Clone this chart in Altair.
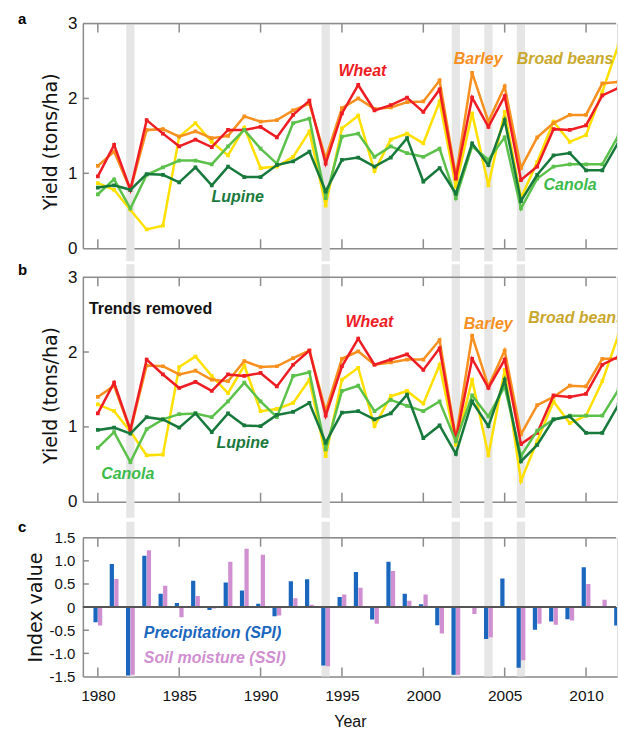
import altair as alt
import pandas as pd

# ---------------- data ----------------
years = list(range(1980, 2013))
crops = ["Broad beans", "Barley", "Wheat", "Canola", "Lupine"]

wheat_raw = [0.96, 1.38, 0.78, 1.71, 1.53, 1.36, 1.45, 1.35, 1.58, 1.58, 1.62, 1.48, 1.78, 1.97,
             1.13, 1.80, 2.18, 1.84, 1.91, 2.01, 1.82, 2.12, 0.93, 2.01, 1.62, 2.03, 0.91, 1.09,
             1.59, 1.58, 1.64, 2.04, 2.14]
barley_raw = [1.10, 1.29, 0.78, 1.58, 1.59, 1.49, 1.56, 1.47, 1.50, 1.76, 1.69, 1.71, 1.84, 1.93,
              1.20, 1.87, 2.00, 1.86, 1.88, 1.95, 1.96, 2.24, 0.96, 2.34, 1.69, 2.16, 1.07, 1.48,
              1.67, 1.78, 1.78, 2.20, 2.22]
beans_raw = [0.87, 0.78, 0.51, 0.25, 0.30, 1.49, 1.67, 1.42, 1.24, 1.61, 1.07, 1.09, 1.22, 1.56,
             0.57, 1.60, 1.77, 1.03, 1.45, 1.53, 1.40, 1.96, 0.82, 1.80, 0.84, 1.82, 0.67, 1.15,
             1.69, 1.42, 1.51, 2.09, 2.72]
canola_raw = [0.72, 0.92, 0.53, 0.98, 1.08, 1.17, 1.17, 1.12, 1.36, 1.58, 1.33, 1.13, 1.67, 1.73,
              0.67, 1.49, 1.53, 1.22, 1.36, 1.27, 1.22, 1.33, 0.67, 1.36, 1.18, 1.48, 0.53, 0.93,
              1.09, 1.12, 1.12, 1.12, 1.51]
lupine_raw = [0.81, 0.84, 0.78, 0.99, 0.98, 0.88, 1.08, 0.84, 1.09, 0.95, 0.95, 1.11, 1.16, 1.29,
              0.76, 1.18, 1.21, 1.09, 1.21, 1.47, 0.89, 1.07, 0.73, 1.40, 1.11, 1.71, 0.63, 0.98,
              1.24, 1.27, 1.04, 1.04, 1.42]

wheat_detr = [1.18, 1.59, 0.96, 1.90, 1.70, 1.52, 1.60, 1.48, 1.70, 1.68, 1.72, 1.54, 1.83, 2.02,
              1.15, 1.81, 2.18, 1.83, 1.90, 1.97, 1.76, 2.05, 0.83, 1.91, 1.52, 1.90, 0.77, 0.92,
              1.42, 1.40, 1.44, 1.83, 1.94]
barley_detr = [1.40, 1.55, 0.95, 1.82, 1.81, 1.70, 1.75, 1.63, 1.61, 1.88, 1.80, 1.81, 1.92, 2.02,
               1.21, 1.91, 2.01, 1.83, 1.86, 1.90, 1.90, 2.16, 0.85, 2.22, 1.54, 2.02, 0.90, 1.29,
               1.40, 1.55, 1.54, 1.91, 1.91]
beans_detr = [1.30, 1.21, 0.94, 0.62, 0.63, 1.80, 1.94, 1.68, 1.45, 1.82, 1.21, 1.24, 1.32, 1.63,
              0.61, 1.63, 1.79, 1.01, 1.41, 1.48, 1.31, 1.83, 0.76, 1.63, 0.62, 1.76, 0.28, 0.81,
              1.34, 1.05, 1.15, 1.61, 2.23]
canola_detr = [0.72, 0.93, 0.53, 0.97, 1.10, 1.17, 1.18, 1.13, 1.34, 1.59, 1.34, 1.13, 1.68, 1.73,
               0.70, 1.48, 1.55, 1.21, 1.36, 1.28, 1.21, 1.34, 0.81, 1.42, 1.14, 1.54, 0.61, 0.95,
               1.10, 1.15, 1.15, 1.15, 1.50]
lupine_detr = [0.96, 0.99, 0.91, 1.13, 1.10, 0.99, 1.18, 0.93, 1.18, 1.02, 1.01, 1.16, 1.20, 1.32,
               0.79, 1.19, 1.21, 1.10, 1.18, 1.43, 0.85, 1.02, 0.64, 1.34, 1.01, 1.63, 0.54, 0.76,
               1.10, 1.14, 0.92, 0.92, 1.30]

spi = [-0.33, 0.93, -1.48, 1.11, 0.29, 0.09, 0.57, -0.06, 0.53, 0.36, 0.07, -0.20, 0.56, 0.60,
       -1.26, 0.22, 0.76, -0.27, 0.98, 0.29, 0.06, -0.39, -1.46, 0.00, -0.69, 0.62, -1.31, -0.49,
       -0.31, -0.26, 0.86, -0.02, -0.40]
ssi = [-0.40, 0.61, -1.46, 1.23, 0.46, -0.22, 0.24, -0.03, 0.98, 1.26, 1.13, -0.18, 0.19, 0.05,
       -1.28, 0.27, 0.42, -0.36, 0.78, 0.14, 0.27, -0.57, -1.46, -0.15, -0.65, 0.01, -1.15, -0.36,
       -0.38, -0.29, 0.50, 0.16, -0.30]

drought_years = [1982, 1994, 2002, 2004, 2006]
tick_years = [1980, 1985, 1990, 1995, 2000, 2005, 2010]
yield_ticks = [0, 1, 2, 3]
index_ticks = [-1.5, -1.0, -0.5, 0, 0.5, 1.0, 1.5]

raw_series = {"Wheat": wheat_raw, "Barley": barley_raw, "Broad beans": beans_raw,
              "Canola": canola_raw, "Lupine": lupine_raw}
detr_series = {"Wheat": wheat_detr, "Barley": barley_detr, "Broad beans": beans_detr,
               "Canola": canola_detr, "Lupine": lupine_detr}

# ---------------- style ----------------
line_color = {"Wheat": "#ee1d24", "Barley": "#f7901e", "Broad beans": "#ffe000",
              "Canola": "#5cc14b", "Lupine": "#17793b"}
text_color = {"Wheat": "#ee1c25", "Barley": "#f7901e", "Broad beans": "#c9a82c",
              "Canola": "#3cba4a", "Lupine": "#1a7a3c"}
SPI_COLOR = "#1a67bd"
SSI_COLOR = "#d08fd0"
BAND = "#e6e6e6"
FRAME = "#8c8c8c"
FONT = "Liberation Sans"
WIDE = "DejaVu Sans"

W = 535
XMIN = 1979.08
XMAX = XMIN + W / 16.3
xscale = alt.Scale(domain=[XMIN, XMAX], nice=False, zero=False)


def x_axis(show_labels):
    if show_labels:
        return alt.Axis(values=tick_years, format="d", ticks=False, tickSize=0, grid=False,
                        domain=True, domainColor=FRAME, domainWidth=1.5,
                        labelFont=FONT, labelFontSize=15.5, labelColor="#111", labelPadding=12,
                        title="Year", titleFont=FONT, titleFontSize=16, titleFontWeight="normal",
                        titleColor="#111", titlePadding=10)
    return alt.Axis(labels=False, ticks=False, tickSize=0, grid=False, domain=True,
                    domainColor=FRAME, domainWidth=1.5, title="")


class Enc:
    """Encoding helpers that carry the same scale and axis in every layer of a panel."""

    def __init__(self, yscale, yax, xax):
        self.ys, self.ya, self.xa = yscale, yax, xax

    def x(self, field):
        return alt.X(field, type="quantitative", scale=xscale, axis=self.xa)

    def xd(self, v):
        return alt.XDatum(v, type="quantitative", scale=xscale, axis=self.xa)

    def y(self, field):
        return alt.Y(field, type="quantitative", scale=self.ys, axis=self.ya)

    def yd(self, v):
        return alt.YDatum(v, type="quantitative", scale=self.ys, axis=self.ya)


def one_row():
    return pd.DataFrame({"k": [0]})


def frame_layers(E, ytop, ybot, ylen, left_ticks):
    xlen = 6 / 16.3
    layers = []
    tdf = pd.DataFrame({"year": tick_years})
    layers.append(alt.Chart(tdf).mark_rule(color=FRAME, strokeWidth=1.5).encode(
        x=E.x("year"), y=E.yd(ytop), y2=alt.datum(ytop - ylen)))
    layers.append(alt.Chart(tdf).mark_rule(color=FRAME, strokeWidth=1.5).encode(
        x=E.x("year"), y=E.yd(ybot), y2=alt.datum(ybot + ylen)))
    ldf = pd.DataFrame({"v": left_ticks})
    layers.append(alt.Chart(ldf).mark_rule(color=FRAME, strokeWidth=1.5).encode(
        x=E.xd(XMIN), x2=alt.datum(XMIN + xlen), y=E.y("v")))
    layers.append(alt.Chart(one_row()).mark_rule(color=FRAME, strokeWidth=1.5).encode(
        x=E.xd(XMIN), x2=alt.datum(XMAX - 0.06), y=E.yd(ytop)))
    return layers


def bands_layer(E, ytop_ext, ybot_ext):
    bdf = pd.DataFrame({"year": drought_years})
    return alt.Chart(bdf).transform_calculate(
        x0="datum.year - 0.255", x1="datum.year + 0.255"
    ).mark_rect(color=BAND).encode(
        x=E.x("x0"), x2="x1:Q", y=E.yd(ytop_ext), y2=alt.datum(ybot_ext))


def letter_layer(letter, dy):
    return alt.Chart(pd.DataFrame({"t": [letter]})).mark_text(
        align="left", baseline="alphabetic", font=FONT, fontSize=15,
        fontWeight="bold", color="#000").encode(
        x=alt.value(-65), y=alt.value(dy), text="t:N")


def crop_labels(E, names, xs, ys, align, clip=False):
    df = pd.DataFrame({"label": names, "x": xs, "y": ys,
                       "c": [text_color[n] for n in names]})
    return alt.Chart(df).mark_text(
        font=FONT, fontSize=16, fontWeight="bold", fontStyle="italic",
        align=align, baseline="middle", clip=clip).encode(
        x=E.x("x"), y=E.y("y"), text="label:N", color=alt.Color("c:N", scale=None))


def yield_panel(series, letter, letter_dy, top_ext, bot_ext, labels_center, labels_left,
                plain_text=None):
    yscale = alt.Scale(domain=[0, 3], nice=False, zero=False)
    yax = alt.Axis(values=yield_ticks, format="d", ticks=False, tickSize=0, grid=False,
                   domain=True, domainColor=FRAME, domainWidth=1.5,
                   labelFont=FONT, labelFontSize=17, labelColor="#111", labelPadding=6,
                   title="Yield (tons/ha)", titleFont=WIDE, titleFontSize=19,
                   titleFontWeight="normal", titleColor="#111", titlePadding=7, titleY=118)
    E = Enc(yscale, yax, x_axis(False))
    layers = [bands_layer(E, top_ext, bot_ext)]
    layers += frame_layers(E, 3, 0, 9 / 75, [1, 2])
    for crop in crops:
        df = pd.DataFrame({"year": years, "value": series[crop]})
        col = line_color[crop]
        layers.append(alt.Chart(df).mark_line(
            color=col, strokeWidth=2.5, clip=True,
            point=alt.OverlayMarkDef(shape="square", size=14, filled=True, color=col, clip=True)
        ).encode(x=E.x("year"), y=E.y("value")))
    names, xs, ys = labels_center
    layers.append(crop_labels(E, names, xs, ys, "center"))
    if labels_left:
        names, xs, ys = labels_left
        layers.append(crop_labels(E, names, xs, ys, "left", clip=True))
    if plain_text:
        t, x0, y0 = plain_text
        layers.append(alt.Chart(pd.DataFrame({"t": [t], "x": [x0], "y": [y0]})).mark_text(
            font=FONT, fontSize=16, fontWeight="bold", align="left", baseline="middle",
            color="#111").encode(x=E.x("x"), y=E.y("y"), text="t:N"))
    layers.append(letter_layer(letter, letter_dy))
    return alt.layer(*layers).properties(width=W, height=225)


panel_a = yield_panel(
    raw_series, "a", 0, 3, -13 / 75,
    (["Wheat", "Barley", "Broad beans", "Lupine", "Canola"],
     [1996.26, 2003.37, 2008.71, 1988.59, 2009.02],
     [2.37, 2.53, 2.53, 0.68, 0.84]),
    None)

panel_b = yield_panel(
    detr_series, "b", -2, 3 + 13 / 75, -16 / 75,
    (["Wheat", "Barley", "Lupine", "Canola"],
     [1996.69, 2003.99, 1988.90, 1981.84],
     [2.40, 2.37, 0.79, 0.37]),
    (["Broad beans"], [2006.45], [2.45]),
    plain_text=("Trends removed", 1979.45, 2.57))

# ---------------- panel c ----------------
yscale_c = alt.Scale(domain=[-1.5, 1.5], nice=False, zero=False)
yax_c = alt.Axis(values=index_ticks, ticks=False, tickSize=0, grid=False, domain=True,
                 domainColor=FRAME, domainWidth=1.5,
                 labelExpr="datum.value == 0 ? '0' : (datum.value < 0 ? '-' + format(-datum.value, '.1f') : format(datum.value, '.1f'))",
                 labelFont=FONT, labelFontSize=15, labelColor="#111", labelPadding=8,
                 title="Index value", titleFont=WIDE, titleFontSize=19,
                 titleFontWeight="normal", titleColor="#111", titlePadding=4)
Ec = Enc(yscale_c, yax_c, x_axis(True))
c_layers = [bands_layer(Ec, 1.5 + 16 / 46.33, -1.5)]
c_layers += frame_layers(Ec, 1.5, -1.5, 9 / 46.33, [-1.0, -0.5, 0.5, 1.0])
idx_df = pd.DataFrame({"year": years, "spi": spi, "ssi": ssi})
c_layers.append(alt.Chart(idx_df).transform_calculate(
    x0="datum.year - 0.27", x1="datum.year - 0.01"
).mark_rect(color=SPI_COLOR, clip=True).encode(
    x=Ec.x("x0"), x2="x1:Q", y=Ec.y("spi"), y2=alt.datum(0)))
c_layers.append(alt.Chart(idx_df).transform_calculate(
    x0="datum.year + 0.01", x1="datum.year + 0.27"
).mark_rect(color=SSI_COLOR, clip=True).encode(
    x=Ec.x("x0"), x2="x1:Q", y=Ec.y("ssi"), y2=alt.datum(0)))
c_layers.append(alt.Chart(one_row()).mark_rule(color="#555555", strokeWidth=2).encode(
    x=Ec.xd(XMIN), x2=alt.datum(XMAX - 0.06), y=Ec.yd(0)))
leg_df = pd.DataFrame({"t": ["Precipitation (SPI)", "Soil moisture (SSI)"],
                       "x": [1982.82, 1982.82], "y": [-0.56, -1.10],
                       "c": [SPI_COLOR, SSI_COLOR]})
c_layers.append(alt.Chart(leg_df).mark_text(
    font=FONT, fontSize=16, fontWeight="bold", fontStyle="italic",
    align="left", baseline="middle").encode(
    x=Ec.x("x"), y=Ec.y("y"), text="t:N", color=alt.Color("c:N", scale=None)))
c_layers.append(letter_layer("c", -6))
panel_c = alt.layer(*c_layers).properties(width=W, height=139)

chart = alt.vconcat(panel_a, panel_b, panel_c, spacing=0).properties(
    padding={"left": 17, "top": 10, "right": 0, "bottom": 0}
).configure_view(stroke=None).configure(background="white")

chart.save("out.html", embed_options={"renderer": "svg", "actions": False})
